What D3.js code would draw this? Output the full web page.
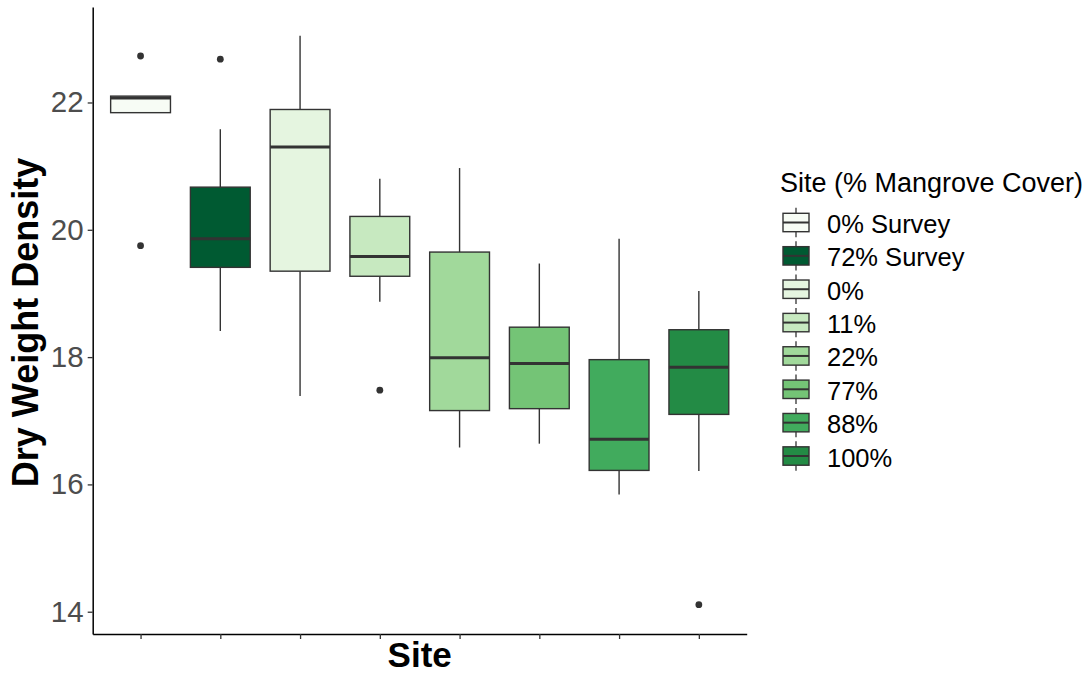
<!DOCTYPE html>
<html>
<head>
<meta charset="utf-8">
<script src="https://cdn.jsdelivr.net/npm/d3@7"></script>
<style>
  html, body { margin: 0; padding: 0; background: #ffffff; }
  svg { display: block; font-family: "Liberation Sans", Arial, Helvetica, sans-serif; }
</style>
</head>
<body>
<svg id="chart" width="1084" height="674"></svg>
<script>
// Sites in plotting order
const sites = ["0% Survey", "72% Survey", "0%", "11%", "22%", "77%", "88%", "100%"];

// Box-plot summaries per site (Dry Weight Density)
const lowerWhisker = [21.84, 18.41, 17.39, 18.87, 16.58, 16.64, 15.84, 16.21];
const lowerHinge   = [21.84, 19.41, 19.35, 19.27, 17.16, 17.19, 16.22, 17.10];
const medians      = [22.07, 19.86, 21.30, 19.58, 17.99, 17.90, 16.71, 17.84];
const upperHinge   = [22.10, 20.67, 21.89, 20.21, 19.65, 18.47, 17.96, 18.43];
const upperWhisker = [22.10, 21.58, 23.05, 20.80, 20.97, 19.47, 19.86, 19.04];
const outliers     = [[22.73, 19.75], [22.68], [], [17.48], [], [], [], [14.11]];

// Fill colours per site
const fills = ["#F7FCF5", "#005A32", "#E5F5E0", "#C7E9C0", "#A1D99B", "#74C476", "#41AB5D", "#238B45"];

// Y axis ticks
const yTicks = [14, 16, 18, 20, 22];

const rows = sites.map((s, i) => ({
  site: s, lw: lowerWhisker[i], q1: lowerHinge[i], med: medians[i],
  q3: upperHinge[i], uw: upperWhisker[i], out: outliers[i], fill: fills[i]
}));

const svg = d3.select("#chart");
const panel = { left: 92.7, right: 746.7, top: 7, bottom: 634 };
const ink = "#333333";

const x = d3.scalePoint().domain(sites).range([panel.left, panel.right]).padding(0.6);
const y = d3.scaleLinear().domain([13.65, 23.5]).range([panel.bottom, panel.top]);
const boxW = x.step() * 0.75;

const plot = svg.append("g");

// Whiskers
plot.selectAll("line.whisker-up").data(rows).join("line")
  .attr("x1", d => x(d.site)).attr("x2", d => x(d.site))
  .attr("y1", d => y(d.q3)).attr("y2", d => y(d.uw))
  .attr("stroke", ink).attr("stroke-width", 1.4);
plot.selectAll("line.whisker-dn").data(rows).join("line")
  .attr("x1", d => x(d.site)).attr("x2", d => x(d.site))
  .attr("y1", d => y(d.q1)).attr("y2", d => y(d.lw))
  .attr("stroke", ink).attr("stroke-width", 1.4);

// Boxes
plot.selectAll("rect.box").data(rows).join("rect")
  .attr("x", d => x(d.site) - boxW / 2)
  .attr("width", boxW)
  .attr("y", d => y(d.q3))
  .attr("height", d => y(d.q1) - y(d.q3))
  .attr("fill", d => d.fill)
  .attr("stroke", ink).attr("stroke-width", 1.4);

// Medians
plot.selectAll("line.median").data(rows).join("line")
  .attr("x1", d => x(d.site) - boxW / 2).attr("x2", d => x(d.site) + boxW / 2)
  .attr("y1", d => y(d.med)).attr("y2", d => y(d.med))
  .attr("stroke", ink).attr("stroke-width", 3);

// Outliers
const outPts = rows.flatMap(d => d.out.map(v => ({ site: d.site, v })));
plot.selectAll("circle.out").data(outPts).join("circle")
  .attr("cx", d => x(d.site)).attr("cy", d => y(d.v)).attr("r", 3.4)
  .attr("fill", ink);

// Axes
const yAxis = svg.append("g")
  .attr("transform", `translate(${panel.left},0)`)
  .call(d3.axisLeft(y).tickValues(yTicks).tickSize(5).tickSizeOuter(0).tickPadding(4).tickFormat(d3.format("d")));
yAxis.select(".domain").attr("stroke", "#000").attr("stroke-width", 1.5);
yAxis.selectAll(".tick line").attr("stroke", ink).attr("stroke-width", 1.3);
yAxis.selectAll(".tick text").attr("fill", "#4D4D4D").attr("font-size", 29.5)
  .attr("font-family", "Liberation Sans, Arial, sans-serif");

const xAxis = svg.append("g")
  .attr("transform", `translate(0,${panel.bottom})`)
  .call(d3.axisBottom(x).tickSize(5).tickSizeOuter(0).tickFormat(""));
xAxis.select(".domain").attr("stroke", "#000").attr("stroke-width", 1.5);
xAxis.selectAll(".tick line").attr("stroke", ink).attr("stroke-width", 1.3);

// Axis titles
svg.append("text")
  .attr("transform", `translate(38,${(panel.top + panel.bottom) / 2 + 2}) rotate(-90)`)
  .attr("text-anchor", "middle")
  .attr("font-size", 36).attr("font-weight", "bold").attr("fill", "#000")
  .text("Dry Weight Density");
svg.append("text")
  .attr("x", (panel.left + panel.right) / 2).attr("y", 667)
  .attr("text-anchor", "middle")
  .attr("font-size", 35).attr("font-weight", "bold").attr("fill", "#000")
  .text("Site");

// Legend
const legend = svg.append("g");
legend.append("text")
  .attr("x", 780).attr("y", 192)
  .attr("font-size", 27).attr("fill", "#000")
  .text("Site (% Mangrove Cover)");

const rowY = i => 222.5 + i * 33.36;
const keys = legend.selectAll("g.key").data(rows).join("g")
  .attr("transform", (d, i) => `translate(796,${rowY(i)})`);
keys.append("line").attr("x1", 0).attr("x2", 0).attr("y1", -14.7).attr("y2", 14.7)
  .attr("stroke", ink).attr("stroke-width", 1.3);
keys.append("rect").attr("x", -13).attr("y", -9.2).attr("width", 26).attr("height", 18.4)
  .attr("fill", d => d.fill).attr("stroke", ink).attr("stroke-width", 1.4);
keys.append("line").attr("x1", -13).attr("x2", 13).attr("y1", 0).attr("y2", 0)
  .attr("stroke", ink).attr("stroke-width", 2);
keys.append("text").attr("x", 31).attr("y", 10.5)
  .attr("font-size", 25.5).attr("fill", "#000")
  .text(d => d.site);
</script>
</body>
</html>
